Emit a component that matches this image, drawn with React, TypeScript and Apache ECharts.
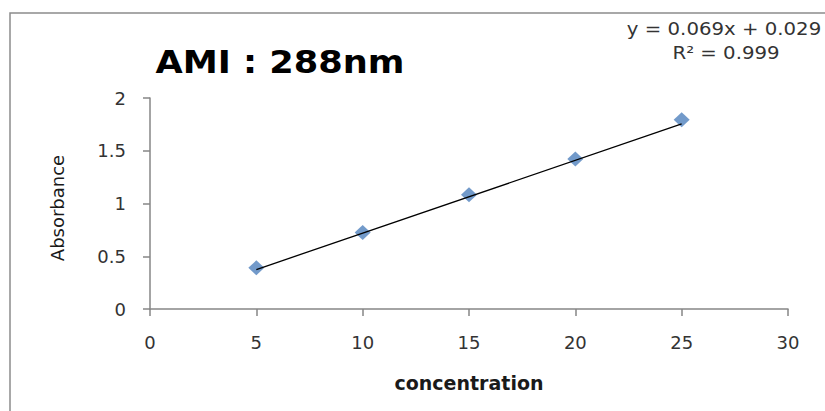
import React, { useEffect, useRef } from "react";
import * as echarts from "echarts";

// Calibration data for AMI at 288 nm
const concentration = [5, 10, 15, 20, 25];
const absorbance = [0.39, 0.726, 1.083, 1.422, 1.794];

// Linear fit reported on the chart
const slope = 0.069;
const intercept = 0.029;
const equationText = "y = 0.069x + 0.029";
const r2Text = "R² = 0.999";

const titleText = "AMI : 288nm";
const xAxisName = "concentration";
const yAxisName = "Absorbance";

export default function App() {
  const ref = useRef<HTMLDivElement>(null);

  useEffect(() => {
    if (!ref.current) return;
    const chart = echarts.init(ref.current, undefined, { renderer: "svg" });

    const xFirst = concentration[0];
    const xLast = concentration[concentration.length - 1];
    const fitLine = [
      [xFirst, slope * xFirst + intercept],
      [xLast, slope * xLast + intercept],
    ];

    const axisGray = "#868686";
    const labelColor = "#333333";

    chart.setOption({
      animation: false,
      backgroundColor: "#ffffff",
      grid: { left: 150, right: 37, top: 98, bottom: 102, containLabel: false },
      graphic: [
        {
          type: "rect",
          shape: { x: 10, y: 13, width: 840, height: 430 },
          style: { fill: "none", stroke: "#8c8c8c", lineWidth: 1.5 },
          silent: true,
        },
        {
          type: "text",
          x: 280,
          y: 62,
          scaleX: 1.1,
          style: {
            text: titleText,
            fontFamily: "DejaVu Sans",
            fontWeight: "bold",
            fontSize: 32,
            fill: "#000000",
            textAlign: "center",
            textVerticalAlign: "middle",
          },
        },
        {
          type: "text",
          x: 724,
          y: 29,
          scaleX: 1.16,
          style: {
            text: equationText,
            fontFamily: "DejaVu Sans",
            fontSize: 17,
            fill: "#333333",
            textAlign: "center",
            textVerticalAlign: "middle",
          },
        },
        {
          type: "text",
          x: 726,
          y: 53,
          scaleX: 1.16,
          style: {
            text: r2Text,
            fontFamily: "DejaVu Sans",
            fontSize: 17,
            fill: "#333333",
            textAlign: "center",
            textVerticalAlign: "middle",
          },
        },
        {
          type: "text",
          x: 57,
          y: 208,
          rotation: Math.PI / 2,
          style: {
            text: yAxisName,
            fontFamily: "DejaVu Sans",
            fontSize: 18,
            fill: "#1a1a1a",
            textAlign: "center",
            textVerticalAlign: "middle",
          },
        },
      ],
      xAxis: {
        type: "value",
        min: 0,
        max: 30,
        interval: 5,
        name: xAxisName,
        nameLocation: "middle",
        nameGap: 64,
        nameTextStyle: {
          fontFamily: "DejaVu Sans",
          fontWeight: "bold",
          fontSize: 19,
          color: "#1a1a1a",
        },
        axisLine: { show: true, onZero: false, lineStyle: { color: axisGray, width: 1.5 } },
        axisTick: { show: true, length: 7, lineStyle: { color: axisGray, width: 1.5 } },
        axisLabel: {
          margin: 24,
          fontFamily: "DejaVu Sans",
          fontSize: 18,
          color: labelColor,
        },
        splitLine: { show: false },
      },
      yAxis: {
        type: "value",
        min: 0,
        max: 2,
        interval: 0.5,
        axisLine: { show: true, lineStyle: { color: axisGray, width: 1.5 } },
        axisTick: { show: true, length: 7, lineStyle: { color: axisGray, width: 1.5 } },
        axisLabel: {
          margin: 24,
          fontFamily: "DejaVu Sans",
          fontSize: 18,
          color: labelColor,
        },
        splitLine: { show: false },
      },
      series: [
        {
          type: "line",
          name: "Linear fit",
          data: fitLine,
          symbol: "none",
          lineStyle: { color: "#000000", width: 1.3 },
          z: 3,
          silent: true,
        },
        {
          type: "scatter",
          name: "Absorbance",
          data: concentration.map((c, i) => [c, absorbance[i]]),
          symbol: "diamond",
          symbolSize: [16, 15],
          itemStyle: { color: "#4f81bd" },
          z: 2,
        },
      ],
    });

    return () => chart.dispose();
  }, []);

  return (
    <div
      ref={ref}
      style={{ position: "fixed", left: 0, top: 0, width: 825, height: 411 }}
    />
  );
}
